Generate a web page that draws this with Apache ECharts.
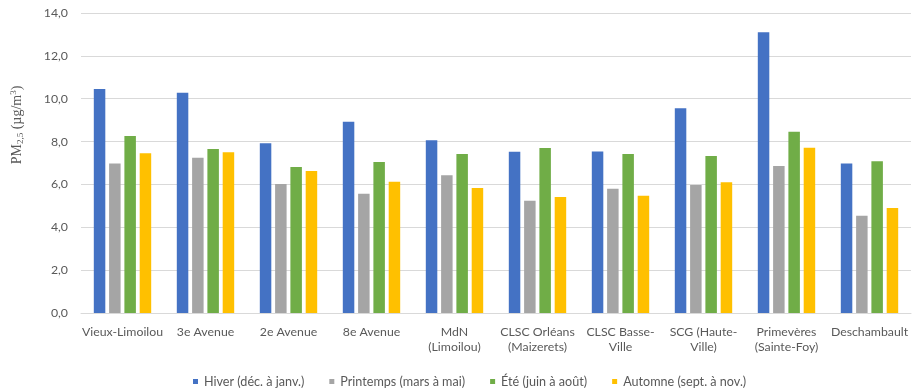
<!DOCTYPE html>
<html lang="fr">
<head>
<meta charset="utf-8">
<title>PM2,5 saisonnier par station</title>
<script src="https://cdn.jsdelivr.net/npm/echarts@6/dist/echarts.min.js"></script>
<style>
  html, body { margin: 0; padding: 0; background: #ffffff; }
  #chart { width: 914px; height: 389px; }
</style>
</head>
<body>
<div id="chart"></div>
<script>
// Stations de mesure
const stations = [
  'Vieux-Limoilou', '3e Avenue', '2e Avenue', '8e Avenue', 'MdN\n(Limoilou)',
  'CLSC Orléans\n(Maizerets)', 'CLSC Basse-\nVille', 'SCG (Haute-\nVille)',
  'Primevères\n(Sainte-Foy)', 'Deschambault'
];

// Noms des saisons (légende)
const seasonNames = [
  'Hiver (déc. à janv.)', 'Printemps (mars à mai)',
  'Été (juin à août)', 'Automne (sept. à nov.)'
];

// Concentrations moyennes de PM2,5 (µg/m³) par saison
const hiver     = [10.45, 10.28, 7.92, 8.93, 8.06, 7.53, 7.54, 9.55, 13.10, 6.98];
const printemps = [6.98, 7.25, 6.02, 5.57, 6.43, 5.24, 5.80, 5.97, 6.86, 4.54];
const ete       = [8.26, 7.65, 6.81, 7.05, 7.42, 7.70, 7.42, 7.33, 8.46, 7.08];
const automne   = [7.45, 7.50, 6.63, 6.13, 5.83, 5.41, 5.47, 6.10, 7.71, 4.90];

// Graduations de l'axe vertical
const yTicks = [0, 2, 4, 6, 8, 10, 12, 14];

const seasonColors = ['#4472C4', '#A5A5A5', '#70AD47', '#FFC000'];
const seasonValues = [hiver, printemps, ete, automne];

const labelFont = 'Lato, "Liberation Sans", sans-serif';
const serifFont = '"Liberation Serif", "DejaVu Serif", serif';
const textColor = '#595959';

const chart = echarts.init(document.getElementById('chart'), null, { renderer: 'canvas' });

chart.setOption({
  animation: false,
  backgroundColor: '#ffffff',
  grid: { left: 81, right: 3, top: 13, bottom: 76, containLabel: false, outerBoundsMode: 'none' },
  legend: {
    data: seasonNames,
    left: 188,
    top: 370,
    icon: 'rect',
    itemWidth: 5,
    itemHeight: 5,
    itemGap: 25,
    textStyle: { color: textColor, fontFamily: labelFont, fontSize: 12.6, padding: [0, 0, 0, 1] }
  },
  // Titre de l'axe vertical, avec indice et exposant
  graphic: [{
    type: 'text',
    x: 17,
    y: 125,
    rotation: Math.PI / 2,
    style: {
      x: 0,
      y: 0,
      text: '{m|PM}{s|2,5}{m| (µg/m}{p|3}{m|)}',
      align: 'center',
      verticalAlign: 'middle',
      fill: textColor,
      font: '14px ' + serifFont,
      rich: {
        m: { fontFamily: serifFont, fontSize: 14, fill: textColor, lineHeight: 20, verticalAlign: 'middle' },
        s: { fontFamily: serifFont, fontSize: 9, fill: textColor, lineHeight: 20, verticalAlign: 'bottom', padding: [0, 0, 2, 0] },
        p: { fontFamily: serifFont, fontSize: 9, fill: textColor, lineHeight: 20, verticalAlign: 'top', padding: [2, 0, 0, 0] }
      }
    }
  }],
  xAxis: {
    type: 'category',
    data: stations,
    axisTick: { show: false },
    axisLine: { lineStyle: { color: '#d9d9d9', width: 1 } },
    axisLabel: {
      color: textColor,
      fontFamily: labelFont,
      fontSize: 12.3,
      lineHeight: 15,
      margin: 12,
      interval: 0,
      align: 'center'
    }
  },
  yAxis: {
    type: 'value',
    min: yTicks[0],
    max: yTicks[yTicks.length - 1],
    interval: yTicks[1] - yTicks[0],
    axisLine: { show: false },
    axisTick: { show: false },
    splitLine: { lineStyle: { color: '#d9d9d9', width: 1 } },
    axisLabel: {
      color: textColor,
      fontFamily: labelFont,
      fontSize: 12.3,
      margin: 13,
      formatter: v => v.toFixed(1).replace('.', ',')
    }
  },
  series: seasonNames.map((name, i) => ({
    name: name,
    type: 'bar',
    data: seasonValues[i],
    barWidth: 11.5,
    barGap: '33%',
    itemStyle: { color: seasonColors[i] }
  }))
});
</script>
</body>
</html>
